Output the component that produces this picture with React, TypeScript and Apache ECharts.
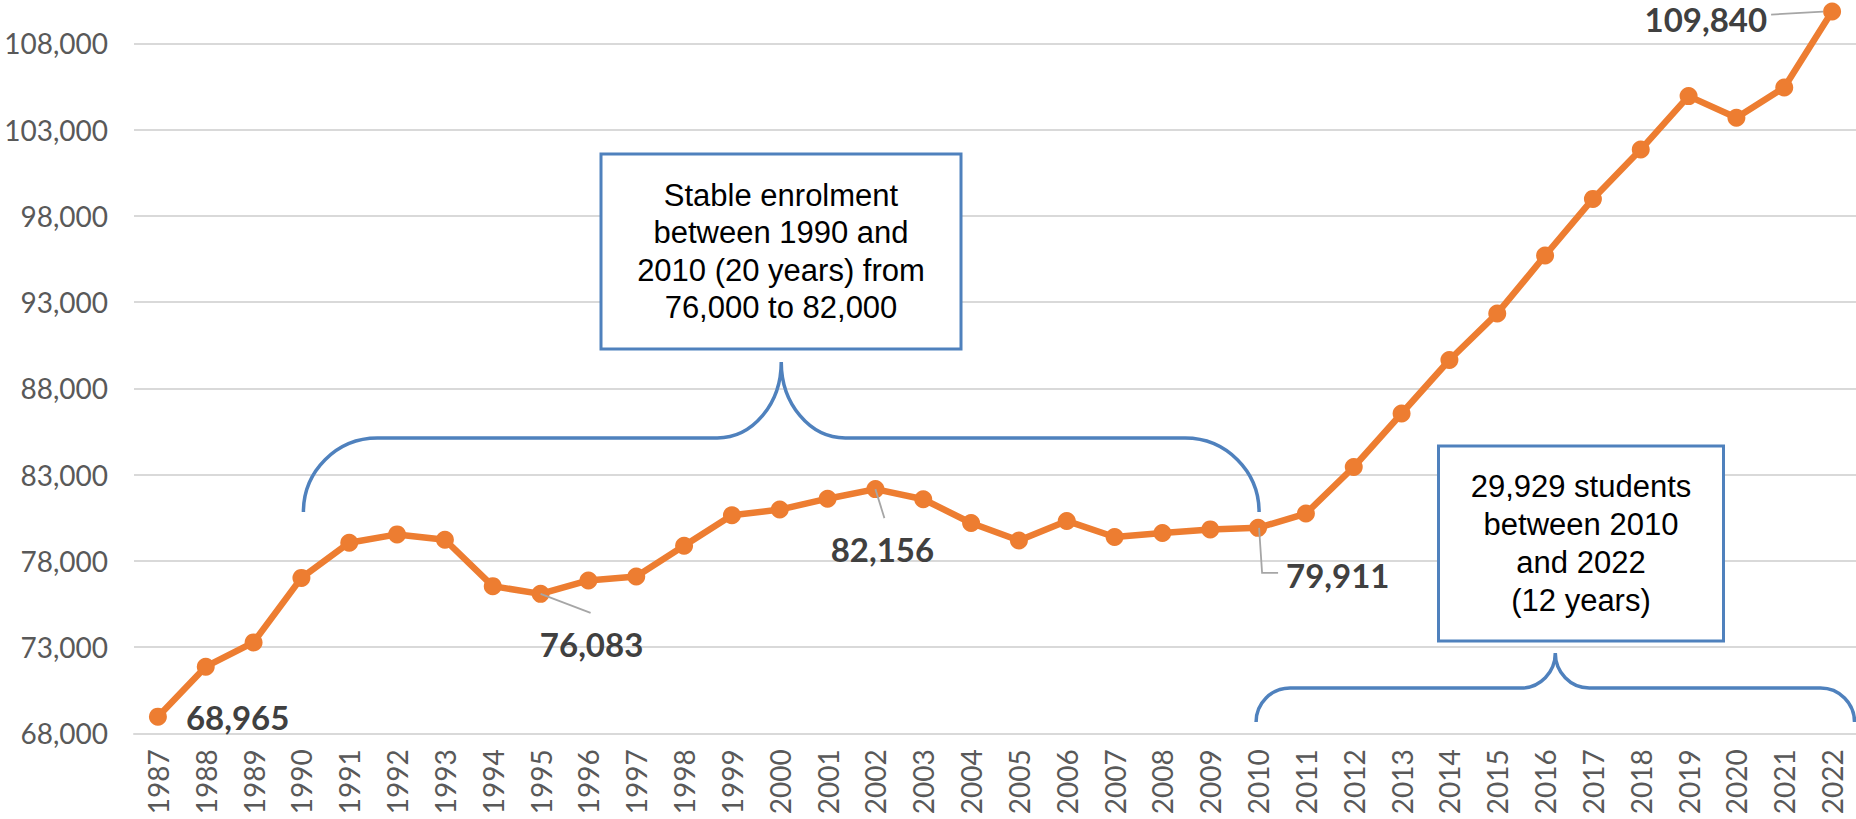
import React, { useEffect, useRef } from "react";
import * as echarts from "echarts";

// ---- data ----
const years = [
  "1987", "1988", "1989", "1990", "1991", "1992", "1993", "1994", "1995",
  "1996", "1997", "1998", "1999", "2000", "2001", "2002", "2003", "2004",
  "2005", "2006", "2007", "2008", "2009", "2010", "2011", "2012", "2013",
  "2014", "2015", "2016", "2017", "2018", "2019", "2020", "2021", "2022",
];
const enrolment = [
  68965, 71860, 73270, 77010, 79050, 79530, 79220, 76530, 76083,
  76860, 77090, 78870, 80640, 80970, 81600, 82156, 81570, 80190,
  79180, 80310, 79380, 79610, 79820, 79911, 80740, 83440, 86540,
  89640, 92340, 95700, 98980, 101840, 104940, 103680, 105440, 109840,
];
const yMin = 68000;
const yMax = 108000;
const yStep = 5000;
const labelledYears = ["1987", "1995", "2002", "2010", "2022"];
const note1Lines = ["Stable enrolment", "between 1990 and", "2010 (20 years) from", "76,000 to 82,000"];
const note2Lines = ["29,929 students", "between 2010", "and 2022", "(12 years)"];
const brace1Years = ["1990", "2010"];
const brace2Years = ["2010"];

// ---- styles / placement (not data) ----
const ORANGE = "#ED7D31";
const BLUE = "#4F81BD";
const labelPlacement: Record<string, { align: string; dx: number; dy: number; leader: number[][] | null }> = {
  "1987": { align: "left", dx: 28, dy: 0, leader: null },
  "1995": { align: "center", dx: 51, dy: 50, leader: [[0, 0], [50, 19]] },
  "2002": { align: "center", dx: 7, dy: 60, leader: [[0, 0], [9, 29]] },
  "2010": { align: "left", dx: 28, dy: 47, leader: [[1, 0], [4, 45], [20, 45]] },
  "2022": { align: "right", dx: -65, dy: 7, leader: [[-61, 3], [-9, 0]] },
};

const fmt = (n: number) => String(n).replace(/\B(?=(\d{3})+(?!\d))/g, ",");

function bracePath(xL: number, xR: number, xC: number, yT: number, yH: number, yE: number, r: number, w: number) {
  const k = 0.552;
  const h = yH - yT;
  return [
    `M ${xL} ${yE}`,
    `C ${xL} ${yE - k * r} ${xL + r - k * r} ${yH} ${xL + r} ${yH}`,
    `L ${xC - w} ${yH}`,
    `C ${xC - w + k * w} ${yH} ${xC} ${yT + k * h} ${xC} ${yT}`,
    `C ${xC} ${yT + k * h} ${xC + w - k * w} ${yH} ${xC + w} ${yH}`,
    `L ${xR - r} ${yH}`,
    `C ${xR - r + k * r} ${yH} ${xR} ${yE - k * r} ${xR} ${yE}`,
  ].join(" ");
}

export default function App() {
  const ref = useRef<HTMLDivElement>(null);

  useEffect(() => {
    if (!ref.current) return;
    const chart = echarts.init(ref.current, undefined, { renderer: "svg" });

    const seriesData = enrolment.map((v, i) => {
      const cfg = labelPlacement[years[i]];
      if (!cfg || labelledYears.indexOf(years[i]) < 0) return v;
      return {
        value: v,
        label: {
          show: true,
          position: "inside",
          align: cfg.align,
          verticalAlign: "middle",
          offset: [cfg.dx, cfg.dy],
        },
      };
    });

    chart.setOption({
      animation: false,
      backgroundColor: "#ffffff",
      grid: { left: 134, right: 0, top: 43.3, bottom: 85.7, containLabel: false },
      xAxis: {
        type: "category",
        data: years,
        boundaryGap: true,
        axisTick: { show: false },
        axisLine: { show: true, lineStyle: { color: "#d9d9d9", width: 2 } },
        axisLabel: {
          rotate: 90,
          interval: 0,
          margin: 16,
          fontFamily: "Lato",
          fontSize: 28,
          color: "#595959",
        },
      },
      yAxis: {
        type: "value",
        min: yMin,
        max: yMax,
        interval: yStep,
        axisLine: { show: false },
        axisTick: { show: false },
        axisLabel: {
          formatter: (v: number) => fmt(v),
          margin: 26,
          fontFamily: "Lato",
          fontSize: 28,
          color: "#595959",
        },
        splitLine: { lineStyle: { color: "#d9d9d9", width: 2 } },
      },
      series: [
        {
          type: "line",
          data: seriesData,
          clip: false,
          symbol: "circle",
          symbolSize: 18,
          lineStyle: { color: ORANGE, width: 6.5 },
          itemStyle: { color: ORANGE },
          label: {
            show: false,
            formatter: (p: any) => fmt(typeof p.value === "number" ? p.value : p.value.value),
            fontFamily: "Lato",
            fontWeight: "bold",
            fontSize: 33,
            lineHeight: 30,
            color: "#404040",
          },
        },
      ],
    });

    const px = (year: string, v: number) =>
      chart.convertToPixel({ gridIndex: 0 }, [years.indexOf(year), v]) as number[];
    const graphics: any[] = [];

    // leader lines
    labelledYears.forEach((y) => {
      const cfg = labelPlacement[y];
      if (!cfg || !cfg.leader) return;
      const [cx, cy] = px(y, enrolment[years.indexOf(y)]);
      graphics.push({
        type: "polyline",
        z: 50,
        shape: { points: cfg.leader.map(([dx, dy]) => [cx + dx, cy + dy]) },
        style: { stroke: "#a6a6a6", lineWidth: 1.8, fill: null },
      });
    });

    // braces
    const chartW = chart.getWidth();
    const b1L = px(brace1Years[0], yMin)[0] + 2;
    const b1R = px(brace1Years[1], yMin)[0] + 1;
    const b1C = (b1L + b1R) / 2;
    echarts.graphic.registerShape(
      "brace1",
      echarts.graphic.extendPath(bracePath(b1L, b1R, b1C, 362, 438, 512, 74, 64), {})
    );
    const b2L = px(brace2Years[0], yMin)[0] - 2;
    const b2R = chartW - 1.5;
    const b2C = (b2L + b2R) / 2;
    echarts.graphic.registerShape(
      "brace2",
      echarts.graphic.extendPath(bracePath(b2L, b2R, b2C, 653, 688, 722, 34, 34), {})
    );
    graphics.push({ type: "brace1", x: 0, y: 0, z: 60, style: { stroke: BLUE, lineWidth: 3.5, fill: null } });
    graphics.push({ type: "brace2", x: 0, y: 0, z: 60, style: { stroke: BLUE, lineWidth: 3.5, fill: null } });

    // note boxes
    const box1 = { x: 601, y: 154, w: 360, h: 195 };
    const box2 = { x: 1438.5, y: 446, w: 285, h: 195 };
    graphics.push({
      type: "rect",
      z: 70,
      shape: { x: box1.x, y: box1.y, width: box1.w, height: box1.h },
      style: { fill: "#ffffff", stroke: BLUE, lineWidth: 3 },
    });
    graphics.push({
      type: "text",
      z: 71,
      style: {
        text: note1Lines.join("\n"),
        x: box1.x + box1.w / 2,
        y: box1.y + box1.h / 2,
        align: "center",
        verticalAlign: "middle",
        fontFamily: "'Liberation Sans', Arial, sans-serif",
        fontSize: 31,
        lineHeight: 37.3,
        fill: "#000000",
      },
    });
    graphics.push({
      type: "rect",
      z: 70,
      shape: { x: box2.x, y: box2.y, width: box2.w, height: box2.h },
      style: { fill: "#ffffff", stroke: BLUE, lineWidth: 3 },
    });
    graphics.push({
      type: "text",
      z: 71,
      style: {
        text: note2Lines.join("\n"),
        x: box2.x + box2.w / 2,
        y: box2.y + box2.h / 2,
        align: "center",
        verticalAlign: "middle",
        fontFamily: "'Liberation Sans', Arial, sans-serif",
        fontSize: 31,
        lineHeight: 38.3,
        fill: "#000000",
      },
    });

    chart.setOption({ graphic: graphics });

    return () => chart.dispose();
  }, []);

  return (
    <div
      ref={ref}
      style={{ position: "absolute", left: 0, top: 0, width: 1856, height: 819, background: "#fff" }}
    />
  );
}
